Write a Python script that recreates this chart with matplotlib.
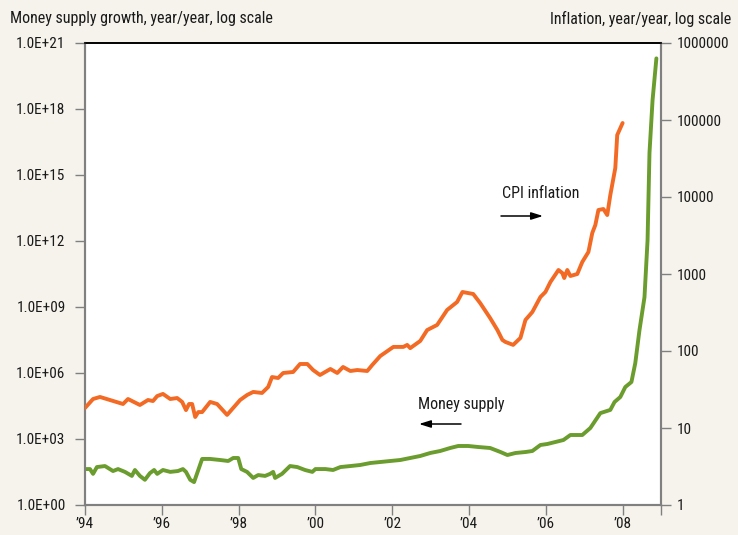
import matplotlib
matplotlib.use("Agg")
import matplotlib.pyplot as plt
from matplotlib import font_manager as fm
from matplotlib.ticker import NullLocator

# ---------------- data ----------------
cpi_years = [1994.00, 1994.21, 1994.39, 1994.65, 1994.99, 1995.12, 1995.43, 1995.64, 1995.77,
             1995.88, 1996.03, 1996.22, 1996.40, 1996.53, 1996.63, 1996.71, 1996.79, 1996.87,
             1996.95, 1997.05, 1997.26, 1997.44, 1997.70, 1998.04, 1998.22, 1998.38, 1998.61,
             1998.77, 1998.87, 1999.03, 1999.16, 1999.42, 1999.60, 1999.79, 1999.94, 2000.12,
             2000.39, 2000.57, 2000.72, 2000.91, 2001.09, 2001.35, 2001.48, 2001.69, 2002.03,
             2002.29, 2002.39, 2002.47, 2002.73, 2002.91, 2003.17, 2003.43, 2003.69, 2003.83,
             2004.11, 2004.29, 2004.55, 2004.74, 2004.87, 2004.95, 2005.15, 2005.34, 2005.47,
             2005.65, 2005.86, 2005.99, 2006.12, 2006.33, 2006.43, 2006.48, 2006.56, 2006.64,
             2006.82, 2006.95, 2007.11, 2007.21, 2007.29, 2007.37, 2007.50, 2007.60, 2007.68,
             2007.81, 2007.86, 2008.00]
cpi_inflation = [18.2, 23.8, 25.3, 23.1, 20.5, 23.8, 19.9, 23.1, 22.4,
                 26.0, 27.7, 23.8, 24.5, 21.8, 17.1, 20.5, 20.5, 13.9,
                 16.1, 16.1, 21.8, 20.5, 14.8, 23.1, 26.8, 29.4, 28.5,
                 34.1, 45.9, 44.6, 51.8, 53.4, 67.8, 67.8, 56.6, 48.8,
                 58.4, 51.8, 62.0, 55.0, 56.6, 55.0, 65.8, 86.1, 113,
                 113, 120, 109, 135, 187, 218, 341, 433, 584,
                 550, 420, 268, 187, 139, 131, 120, 148, 253,
                 321, 503, 584, 787, 1127, 1030, 887, 1127, 942,
                 1000, 1432, 1932, 3407, 4329, 6778, 6984, 5835, 10600,
                 23800, 63800, 91400]

money_years = [1994.00, 1994.13, 1994.21, 1994.31, 1994.52, 1994.73, 1994.86, 1995.04, 1995.22,
               1995.30, 1995.43, 1995.56, 1995.69, 1995.80, 1995.88, 1996.03, 1996.22, 1996.42,
               1996.55, 1996.63, 1996.74, 1996.84, 1996.95, 1997.05, 1997.26, 1997.52, 1997.73,
               1997.86, 1997.99, 1998.07, 1998.22, 1998.38, 1998.51, 1998.69, 1998.82, 1998.90,
               1998.95, 1999.13, 1999.34, 1999.53, 1999.73, 1999.92, 2000.00, 2000.26, 2000.46,
               2000.65, 2000.91, 2001.17, 2001.43, 2001.69, 2001.95, 2002.21, 2002.47, 2002.73,
               2002.99, 2003.25, 2003.51, 2003.72, 2003.98, 2004.24, 2004.55, 2004.82, 2005.00,
               2005.21, 2005.47, 2005.65, 2005.86, 2006.04, 2006.25, 2006.46, 2006.64, 2006.95,
               2007.16, 2007.42, 2007.68, 2007.79, 2007.94, 2008.07, 2008.23, 2008.33, 2008.44,
               2008.57, 2008.65, 2008.70, 2008.78, 2008.88]
money_growth = [43, 43, 26, 53, 59, 35, 43, 32, 21,
                39, 21, 14, 28, 39, 26, 39, 32, 35,
                43, 32, 14, 11, 39, 124, 124, 111, 100,
                137, 137, 43, 32, 17, 23, 21, 26, 32,
                17, 26, 59, 53, 39, 32, 43, 43, 39,
                53, 59, 66, 81, 90, 100, 111, 137, 169,
                231, 285, 390, 481, 481, 433, 390, 256, 187,
                231, 256, 285, 534, 593, 731, 901, 1520, 1520,
                3162, 1.5e4, 2.1e4, 4.8e4, 8.1e4, 2.3e5, 3.9e5, 2.8e6, 9e7,
                2.8e9, 1.1e12, 1e16, 2.5e18, 2e20]

left_ticks = [1e0, 1e3, 1e6, 1e9, 1e12, 1e15, 1e18, 1e21]
left_labels = ["1.0E+00", "1.0E+03", "1.0E+06", "1.0E+09", "1.0E+12", "1.0E+15", "1.0E+18", "1.0E+21"]
right_ticks = [1, 10, 100, 1000, 10000, 100000, 1000000]
right_labels = ["1", "10", "100", "1000", "10000", "100000", "1000000"]
x_ticks = [1994, 1996, 1998, 2000, 2002, 2004, 2006, 2008, 2009]
x_labels = ["\u201994", "\u201996", "\u201998", "\u201900", "\u201902", "\u201904", "\u201906", "\u201908", ""]

# ---------------- style ----------------
names = {f.name for f in fm.fontManager.ttflist}
FONT = next((n for n in ("Roboto Condensed", "Archivo Narrow", "PT Sans Narrow", "Liberation Sans")
             if n in names), "DejaVu Sans")
plt.rcParams["font.family"] = [FONT, "DejaVu Sans"]

BG = "#f6f3ec"
ORANGE = "#f26a24"
GREEN = "#6b9c2e"
TXT = "#1a1a1a"
SPINE = "#808080"

fig = plt.figure(figsize=(7.38, 5.35), dpi=100, facecolor=BG)
ax = fig.add_axes([85 / 738, 1 - 505 / 535, (661 - 85) / 738, (505 - 43) / 535])
ax.set_facecolor("white")
ax2 = ax.twinx()

ax.plot(money_years, money_growth, color=GREEN, lw=2.8, solid_joinstyle="round",
        solid_capstyle="round", zorder=3)
ax2.plot(cpi_years, cpi_inflation, color=ORANGE, lw=2.8, solid_joinstyle="round",
         solid_capstyle="round", zorder=3)

ax.set_yscale("log")
ax2.set_yscale("log")
ax.set_ylim(1, 1e21)
ax2.set_ylim(1, 1e6)
ax.set_xlim(1994, 2009)

ax.set_yticks(left_ticks)
ax.set_yticklabels(left_labels)
ax.yaxis.set_minor_locator(NullLocator())
ax2.set_yticks(right_ticks)
ax2.set_yticklabels(right_labels)
ax2.yaxis.set_minor_locator(NullLocator())
ax.set_xticks(x_ticks)
ax.set_xticklabels(x_labels)

for a in (ax, ax2):
    for s in ("left", "right", "bottom"):
        a.spines[s].set_color(SPINE)
        a.spines[s].set_linewidth(1.5)
    a.spines["top"].set_color("black")
    a.spines["top"].set_linewidth(1.2)
    a.tick_params(axis="both", which="major", direction="out", length=7, width=1,
                  color=SPINE, labelsize=11, labelcolor=TXT)
ax.tick_params(axis="y", pad=7)
ax.tick_params(axis="x", pad=2)
ax2.tick_params(axis="y", pad=4)

fig.text(10 / 738, 1 - 19 / 535, "Money supply growth, year/year, log scale",
         ha="left", va="center", fontsize=11.5, color=TXT)
fig.text(731 / 738, 1 - 19 / 535, "Inflation, year/year, log scale",
         ha="right", va="center", fontsize=11.5, color=TXT)

# annotations (positions in axes-fraction coordinates)
def fx(px):
    return (px - 85) / (661 - 85)

def fy(py):
    return (505 - py) / (505 - 43)

ax.text(fx(541), fy(193), "CPI inflation", transform=ax.transAxes, ha="center", va="center",
        fontsize=11.5, color=TXT)
ax.annotate("", xy=(fx(543), fy(216)), xytext=(fx(501), fy(216)),
            xycoords="axes fraction", textcoords="axes fraction",
            arrowprops=dict(arrowstyle="-|>,head_length=0.7,head_width=0.22", color="black",
                            lw=1.1, shrinkA=0, shrinkB=0))
ax.text(fx(461), fy(404), "Money supply", transform=ax.transAxes, ha="center", va="center",
        fontsize=11.5, color=TXT)
ax.annotate("", xy=(fx(419), fy(424)), xytext=(fx(461), fy(424)),
            xycoords="axes fraction", textcoords="axes fraction",
            arrowprops=dict(arrowstyle="-|>,head_length=0.7,head_width=0.22", color="black",
                            lw=1.1, shrinkA=0, shrinkB=0))

fig.savefig("out.png", dpi=100, facecolor=BG)
